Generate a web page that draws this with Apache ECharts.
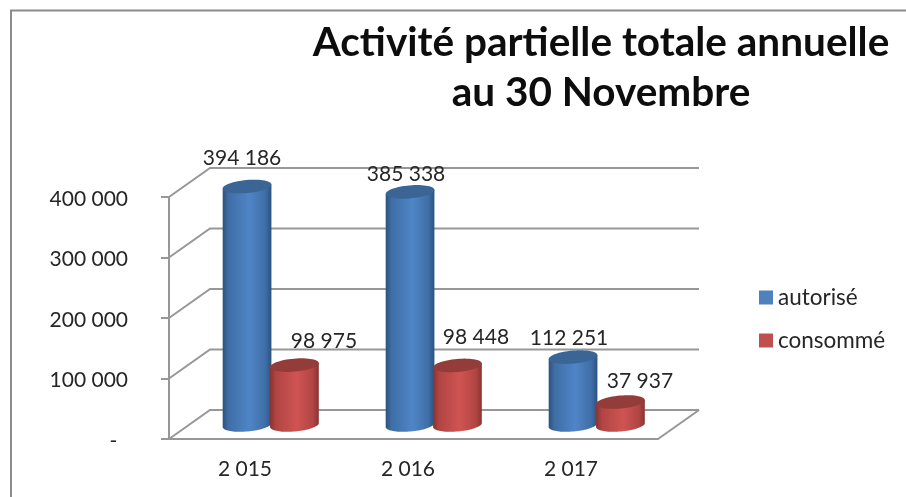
<!DOCTYPE html>
<html><head><meta charset="utf-8">
<style>html,body{margin:0;padding:0;background:#fff}#c{width:906px;height:497px}</style>
<script src="https://cdn.jsdelivr.net/npm/echarts@6/dist/echarts.min.js"></script>
</head><body><div id="c"></div>
<script>
var years = ['2 015', '2 016', '2 017'];
var autorise = [394186, 385338, 112251];
var consomme = [98975, 98448, 37937];
var yTicks = [0, 100000, 200000, 300000, 400000];

// label placement relative to each cylinder top (the source chart has hand-placed labels)
var NUDGE_A = [[-5, -28.5], [-4, -18], [-4, -18.6]];
var NUDGE_C = [[29.5, -23.6], [18.5, -28], [19.5, -21]];
var DEPTH_X = 41, DEPTH_Y = 29, FONT = 'Lato, "Open Sans", sans-serif';
var GRID_C = '#979797';

function fmt(v) { return String(v).replace(/\B(?=(\d{3})+$)/g, ' '); }

function ell(cx, cy, rx, ry, t) {
  var p = -5 * Math.PI / 180;
  return [cx + rx * Math.cos(t) * Math.cos(p) - ry * Math.sin(t) * Math.sin(p),
          cy + rx * Math.cos(t) * Math.sin(p) + ry * Math.sin(t) * Math.cos(p)];
}

function cylinder(side, colors, nudge) {
  return function (params, api) {
    var i = api.value(0), v = api.value(1);
    var band = api.size([1, 0])[0];
    var rx = band * 0.15, ry = 6.5;
    var base = api.coord([i, 0]), top = api.coord([i, v]);
    var cx = base[0] + DEPTH_X / 2 + 0.5 + (side < 0 ? -rx : rx - 1.5);
    var by = base[1] - 14, ty = top[1] - 14;
    var body = [], cap = [], k;
    body.push(ell(cx, ty, rx, ry, Math.PI));
    for (k = 0; k <= 40; k++) body.push(ell(cx, by, rx, ry, Math.PI - Math.PI * k / 40));
    body.push(ell(cx, ty, rx, ry, 0));
    for (k = 0; k < 60; k++) cap.push(ell(cx, ty, rx, ry, 2 * Math.PI * k / 60));
    var n = nudge[i];
    return { type: 'group', children: [
      { type: 'polygon', shape: { points: body }, style: { fill: {
        type: 'linear', x: 0, y: 0, x2: 1, y2: 0, colorStops: [
          { offset: 0, color: colors[0] }, { offset: 0.12, color: colors[1] },
          { offset: 0.55, color: colors[2] }, { offset: 0.88, color: colors[1] },
          { offset: 1, color: colors[0] }] } } },
      { type: 'polygon', shape: { points: cap }, style: { fill: colors[3] } },
      { type: 'text', z2: 50, style: { x: cx + n[0], y: ty + n[1], text: fmt(v), fill: '#262626',
        font: '21px ' + FONT, align: 'center', verticalAlign: 'middle' } }
    ] };
  };
}

function walls(params, api) {
  var p = api.coord([0, api.value(1)]);
  var cs = params.coordSys;
  var x0 = cs.x, x1 = cs.x + cs.width;
  var style = { stroke: GRID_C, lineWidth: 2, fill: 'none' };
  var kids = [{ type: 'polyline', shape: { points: [[x0, p[1]], [x0 + DEPTH_X, p[1] - DEPTH_Y], [x1 + DEPTH_X, p[1] - DEPTH_Y]] }, style: style }];
  if (api.value(1) === 0) {
    kids.push({ type: 'line', shape: { x1: x1, y1: p[1], x2: x1 + DEPTH_X, y2: p[1] - DEPTH_Y }, style: style });
  }
  return { type: 'group', children: kids };
}

var chart = echarts.init(document.getElementById('c'), null, { renderer: 'canvas' });
chart.setOption({
  animation: false,
  backgroundColor: '#ffffff',
  title: {
    text: 'Activité partielle totale annuelle\nau 30 Novembre',
    left: 596, top: 13, textAlign: 'center',
    textStyle: { fontFamily: FONT, fontSize: 40.5, fontWeight: 'bold', color: '#0d0d0d', lineHeight: 50 }
  },
  legend: {
    data: ['autorisé', 'consommé'],
    orient: 'vertical', left: 754, top: 281, itemWidth: 14, itemHeight: 14, itemGap: 20,
    icon: 'rect', textStyle: { fontFamily: FONT, fontSize: 22.5, color: '#262626' }
  },
  grid: { left: 169, right: 248, top: 197, bottom: 58 },
  xAxis: {
    type: 'category', data: years, boundaryGap: true,
    axisLine: { lineStyle: { color: GRID_C, width: 2 } },
    axisTick: { length: 6, lineStyle: { color: GRID_C, width: 2 } },
    axisLabel: { fontFamily: FONT, fontSize: 21, color: '#262626', margin: 20, padding: [0, 11, 0, 0] }
  },
  yAxis: {
    type: 'value', min: 0, max: 400000, interval: 100000,
    axisLine: { show: true, lineStyle: { color: GRID_C, width: 2 } },
    axisTick: { show: true, length: 8, lineStyle: { color: GRID_C, width: 2 } },
    splitLine: { show: false },
    axisLabel: { color: '#262626', margin: 41,
      rich: { n: { fontFamily: FONT, fontSize: 21, color: '#262626', padding: [4, 0, 0, 0] } },
      formatter: function (v) { return '{n|' + (v === 0 ? '-\u00a0\u00a0' : fmt(v)) + '}'; } }
  },
  graphic: [{ type: 'polyline', silent: true, shape: { points: [[11, 497], [11, 10.5], [906, 10.5]] },
    style: { stroke: '#8c8c8c', lineWidth: 2, fill: 'none' } }],
  series: [
    { type: 'custom', name: 'walls', renderItem: walls, z: 1, silent: true,
      data: yTicks.map(function (t) { return [0, t]; }), encode: { x: 0, y: 1 } },
    { type: 'custom', name: 'autorisé', renderItem: cylinder(-1, ['#2b527f', '#3f6ea6', '#4f85c7', '#3a6595'], NUDGE_A), z: 2,
      itemStyle: { color: '#4f81bd' }, data: autorise.map(function (v, i) { return [i, v]; }), encode: { x: 0, y: 1 } },
    { type: 'custom', name: 'consommé', renderItem: cylinder(1, ['#8a3331', '#b04543', '#cf5452', '#943c3a'], NUDGE_C), z: 3,
      itemStyle: { color: '#c0504d' }, data: consomme.map(function (v, i) { return [i, v]; }), encode: { x: 0, y: 1 } }
  ]
});
</script></body></html>
